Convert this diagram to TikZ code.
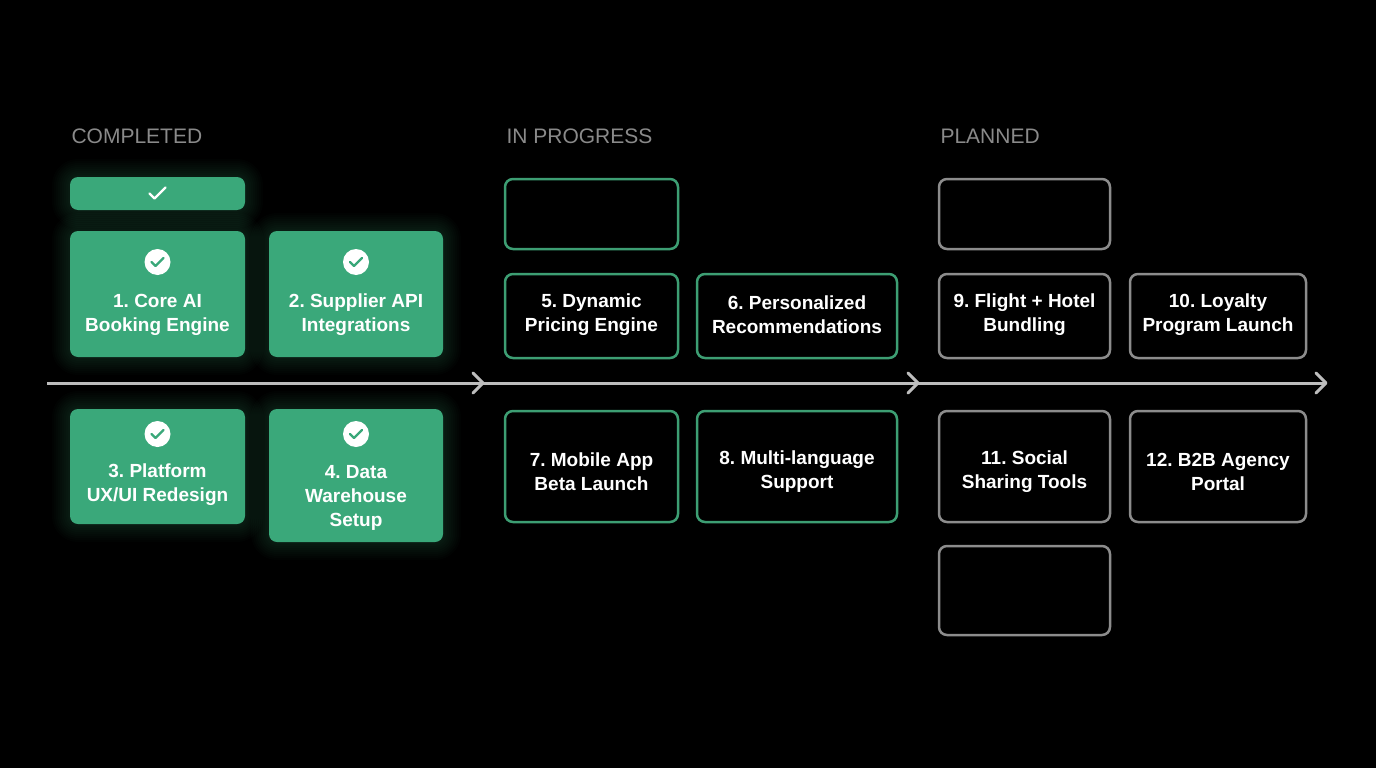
\documentclass[tikz,border=0pt]{standalone}
\usepackage{fontspec}
\setmainfont{Liberation Sans}
\frenchspacing
\begin{document}
\begin{tikzpicture}[x=1pt,y=-1pt,
  done/.style={fill=grn,rounded corners=8pt,inner sep=0pt},
  lbl/.style={text=white,font=\bfseries\fontsize{19}{24}\selectfont,align=center,inner sep=0pt},
  prog/.style={draw=grnline,line width=2.5pt,rounded corners=8pt,inner sep=0pt},
  plan/.style={prog,draw=gry},
  head/.style={anchor=west,text=hd,font=\fontsize{21}{24}\selectfont},
  chev/.style={draw=ln,line width=3pt,line cap=round,line join=round}]
\definecolor{grn}{HTML}{3AA87A}
\definecolor{grnline}{HTML}{3D9E73}
\definecolor{gry}{HTML}{8C8C8C}
\definecolor{hd}{HTML}{8A8A8A}
\definecolor{ln}{HTML}{BDBDBD}
\fill[black] (0,0) rectangle (1376,768);
\useasboundingbox (0,0) rectangle (1376,768);
% glow
\foreach \a/\b/\c/\d in {70/177/245/210,70/231/245/357,269/231/443/357,70/409/245/524,269/409/443/542}{
  \foreach \g in {18,16,...,2}{
    \fill[grn,opacity=0.025,rounded corners=8pt+\g] (\a-\g,\b-\g) rectangle (\c+\g,\d+\g);}}
\node[head] (h1) at (68,136) {COMPLETED};
\node[head] (h2) at (503,136) {IN PROGRESS};
\node[head] (h3) at (937,136) {PLANNED};
% timeline
\coordinate (s) at (47,383);
\coordinate (e) at (1326,383);
\draw[ln,line width=3pt] (s) -- (e);
\foreach \x in {483,918,1326}{\draw[chev] (\x-10,373) -- (\x,383) -- (\x-10,393);}
% completed
\node[done,minimum width=175pt,minimum height=33pt] (c0) at (157.5,193.5) {};
\draw[white,line width=2.2pt,line cap=round,line join=round] ([shift={(-8,0)}]c0.center) -- ++(5,5) -- ++(11,-11);
\node[done,minimum width=175pt,minimum height=126pt] (c1) at (157.5,294) {};
\node[done,minimum width=174pt,minimum height=126pt] (c2) at (356,294) {};
\node[done,minimum width=175pt,minimum height=115pt] (c3) at (157.5,466.5) {};
\node[done,minimum width=174pt,minimum height=133pt] (c4) at (356,475.5) {};
\node[lbl] (t1) at (157.5,315) {1. Core AI\\Booking Engine};
\node[lbl] (t2) at (356,315) {2. Supplier API\\Integrations};
\node[lbl] (t3) at (157.5,485) {3. Platform\\UX/UI Redesign};
\node[lbl] (t4) at (356,498) {4. Data\\Warehouse\\Setup};
\foreach \n/\y in {c1/262,c2/262,c3/434,c4/434}{
  \fill[white] (\n.center |- 0,\y) circle (13);
  \draw[grn,line width=2.2pt,line cap=round,line join=round] ([shift={(-6,\y)}]\n.center |- 0,0) -- ++(4,4) -- ++(8,-8);}
% in progress
\node[prog,minimum width=173pt,minimum height=70pt] (p0) at (591.5,214) {};
\node[prog,minimum width=173pt,minimum height=84pt] (p5) at (591.5,316) {};
\node[prog,minimum width=200pt,minimum height=84pt] (p6) at (797,316) {};
\node[prog,minimum width=173pt,minimum height=111pt] (p7) at (591.5,466.5) {};
\node[prog,minimum width=200pt,minimum height=111pt] (p8) at (797,466.5) {};
\node[lbl] at (591.5,315) {5. Dynamic\\Pricing Engine};
\node[lbl] at (797,315) {6. Personalized\\Recommendations};
\node[lbl] at (591.5,472) {7. Mobile App\\Beta Launch};
\node[lbl] at (797,472) {8. Multi-language\\Support};
% planned
\node[plan,minimum width=171pt,minimum height=70pt] (q0) at (1024.5,214) {};
\node[plan,minimum width=171pt,minimum height=84pt] (q9) at (1024.5,316) {};
\node[plan,minimum width=176pt,minimum height=84pt] (q10) at (1218,316) {};
\node[plan,minimum width=171pt,minimum height=111pt] (q11) at (1024.5,466.5) {};
\node[plan,minimum width=176pt,minimum height=111pt] (q12) at (1218,466.5) {};
\node[plan,minimum width=171pt,minimum height=89pt] (q13) at (1024.5,590.5) {};
\node[lbl] at (1024.5,315) {9. Flight + Hotel\\Bundling};
\node[lbl] at (1218,315) {10. Loyalty\\Program Launch};
\node[lbl] at (1024.5,472) {11. Social\\Sharing Tools};
\node[lbl] at (1218,472) {12. B2B Agency\\Portal};
\end{tikzpicture}
\end{document}
